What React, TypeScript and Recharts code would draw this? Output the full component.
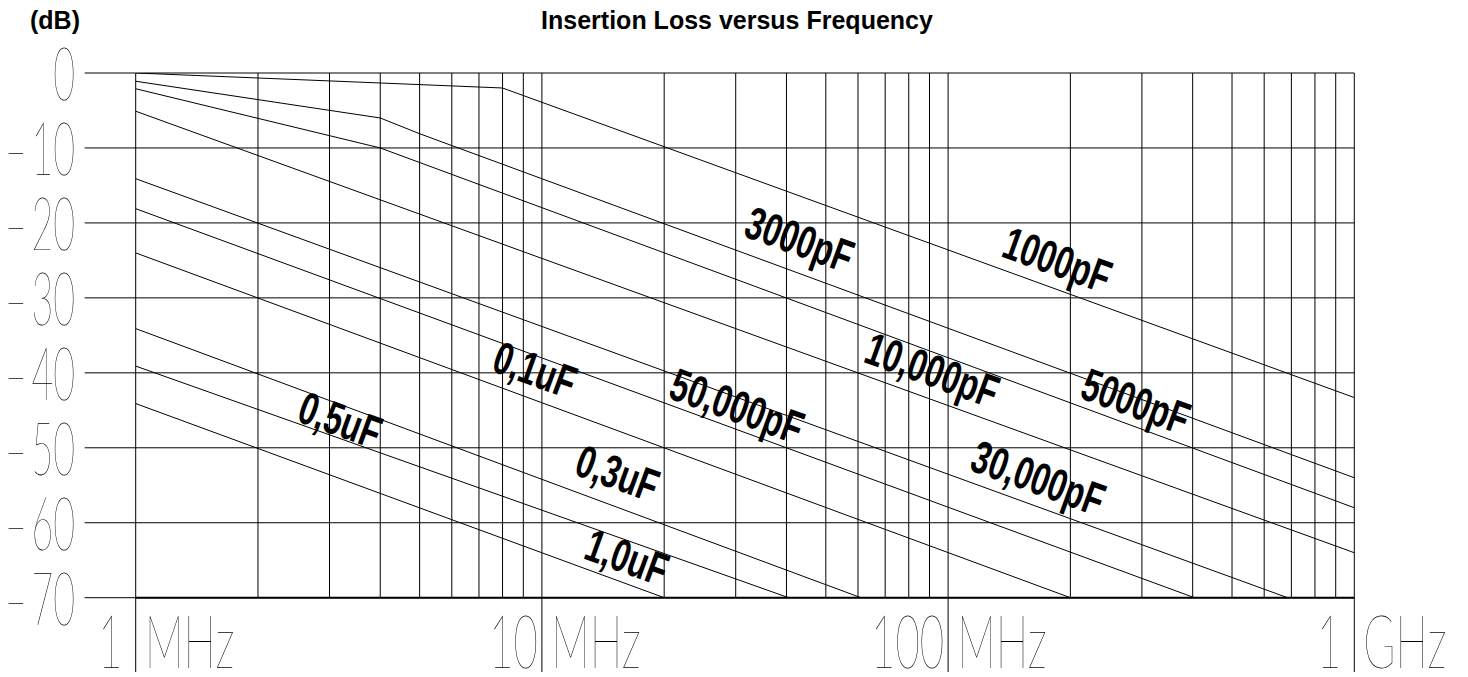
import { LineChart, Line, XAxis, YAxis, CartesianGrid, ReferenceDot } from 'recharts'

// frequency in MHz, insertion loss in dB
const freqTicks = [1, 2, 3, 4, 5, 6, 7, 8, 9, 10, 20, 30, 40, 50, 60, 70, 80, 90, 100, 200, 300, 400, 500, 600, 700, 800, 900, 1000]
const decadeTicks = [1, 10, 100, 1000]
const decadeNumbers = ['1', '10', '100', '1']
const decadeUnits = ['MHz', 'MHz', 'MHz', 'GHz']
const dbTicks = [0, -10, -20, -30, -40, -50, -60, -70]

const c1000pF = [{ f: 1, db: 0 }, { f: 8, db: -2 }, { f: 1000, db: -43.3 }]
const c3000pF = [{ f: 1, db: -1.1 }, { f: 4, db: -6 }, { f: 5, db: -8.1 }, { f: 1000, db: -54 }]
const c5000pF = [{ f: 1, db: -2.1 }, { f: 4, db: -10 }, { f: 1000, db: -58 }]
const c10000pF = [{ f: 1, db: -5.1 }, { f: 1000, db: -64 }]
const c30000pF = [{ f: 1, db: -14.1 }, { f: 685, db: -70 }]
const c50000pF = [{ f: 1, db: -18.1 }, { f: 404, db: -70 }]
const c01uF = [{ f: 1, db: -24 }, { f: 200, db: -70 }]
const c03uF = [{ f: 1, db: -34.1 }, { f: 61, db: -70 }]
const c05uF = [{ f: 1, db: -39.1 }, { f: 40.5, db: -70 }]
const c10uF = [{ f: 1, db: -44.1 }, { f: 20, db: -70 }]

const curves = [c1000pF, c3000pF, c5000pF, c10000pF, c30000pF, c50000pF, c01uF, c03uF, c05uF, c10uF]

// curve labels, placed at (MHz, dB)
const labelTexts = ['3000pF', '1000pF', '10,000pF', '5000pF', '30,000pF', '50,000pF', '0,1uF', '0,3uF', '1,0uF', '0,5uF']
const labelFreqs = [31.1, 134, 61.4, 209, 112, 20.3, 7.45, 11.9, 12.55, 2.47]
const labelDbs = [-21.7, -24.4, -38.5, -43.3, -52.9, -43.3, -39.7, -53.5, -64.7, -46.4]

const W = 1468
const H = 677
const PLOT_BOTTOM = 597.7
const thinFont = 'Lato, Roboto, sans-serif'
const boldFont = '"Liberation Sans", Arial, sans-serif'

function YTick(props: any) {
  const { y, payload } = props
  const v = Number(payload.value)
  const label = v < 0 ? `\u2013\u2009${Math.abs(v)}` : String(v)
  return (
    <text
      transform={`translate(75,${y + 27}) scale(0.5,1)`}
      textAnchor="end"
      fontSize={75}
      fontFamily={thinFont}
      fontWeight={100}
      fill="#000"
    >
      {label}
    </text>
  )
}

function XTick(props: any) {
  const { x, payload } = props
  const i = decadeTicks.indexOf(payload.value)
  if (i < 0) return <g />
  const num = decadeNumbers[i]
  // a lone "1" sits further from the divider in the original
  const gap = num.length === 1 ? 13 : 4
  return (
    <g>
      <line x1={x} x2={x} y1={PLOT_BOTTOM} y2={672} stroke="#000" />
      <text
        transform={`translate(${x - gap},668) scale(0.56,1)`}
        textAnchor="end"
        fontSize={75}
        fontFamily={thinFont}
        fontWeight={100}
        fill="#000"
      >
        {num}
      </text>
      <text
        transform={`translate(${x + 9},668) scale(0.58,1)`}
        textAnchor="start"
        fontSize={75}
        fontFamily={thinFont}
        fontWeight={100}
        fill="#000"
      >
        {decadeUnits[i]}
      </text>
    </g>
  )
}

const curveLabel = (text: string) => (p: any) => (
  <text
    transform={`translate(${p.cx},${p.cy}) rotate(20) scale(0.7,1)`}
    fontFamily={boldFont}
    fontWeight="bold"
    fontSize={46}
    fill="#000"
  >
    {text}
  </text>
)

export default function App() {
  return (
    <div style={{ position: 'absolute', left: 0, top: 0, width: W, height: H, overflow: 'hidden' }}>
      <div
        style={{
          position: 'absolute',
          left: 30,
          top: 8,
          fontFamily: boldFont,
          fontWeight: 'bold',
          fontSize: 25,
          lineHeight: '25px',
        }}
      >
        (dB)
      </div>
      <div
        style={{
          position: 'absolute',
          left: 737 - 300,
          width: 600,
          top: 8,
          textAlign: 'center',
          fontFamily: boldFont,
          fontWeight: 'bold',
          fontSize: 25,
          lineHeight: '25px',
        }}
      >
        Insertion Loss versus Frequency
      </div>
      <LineChart
        width={W}
        height={H}
        margin={{ top: 73, right: 113.7, bottom: 9.3, left: 75.7 }}
        style={{ overflow: 'visible' }}
      >
        <CartesianGrid stroke="#000" strokeWidth={1} />
        <XAxis
          dataKey="f"
          type="number"
          scale="log"
          domain={[1, 1000]}
          ticks={freqTicks}
          interval={0}
          tick={<XTick />}
          tickLine={false}
          tickSize={0}
          axisLine={{ stroke: '#000', strokeWidth: 2 }}
          height={70}
          allowDataOverflow
        />
        <YAxis
          type="number"
          domain={[-70, 0]}
          ticks={dbTicks}
          interval={0}
          tick={<YTick />}
          tickSize={51}
          tickLine={{ stroke: '#000' }}
          axisLine={false}
          width={60}
          allowDataOverflow
        />
        {curves.map((c, i) => (
          <Line
            key={i}
            data={c}
            dataKey="db"
            type="linear"
            stroke="#000"
            strokeWidth={1}
            dot={false}
            isAnimationActive={false}
          />
        ))}
        {labelTexts.map((t, i) => (
          <ReferenceDot key={t} x={labelFreqs[i]} y={labelDbs[i]} r={0} shape={curveLabel(t)} />
        ))}
      </LineChart>
    </div>
  )
}
